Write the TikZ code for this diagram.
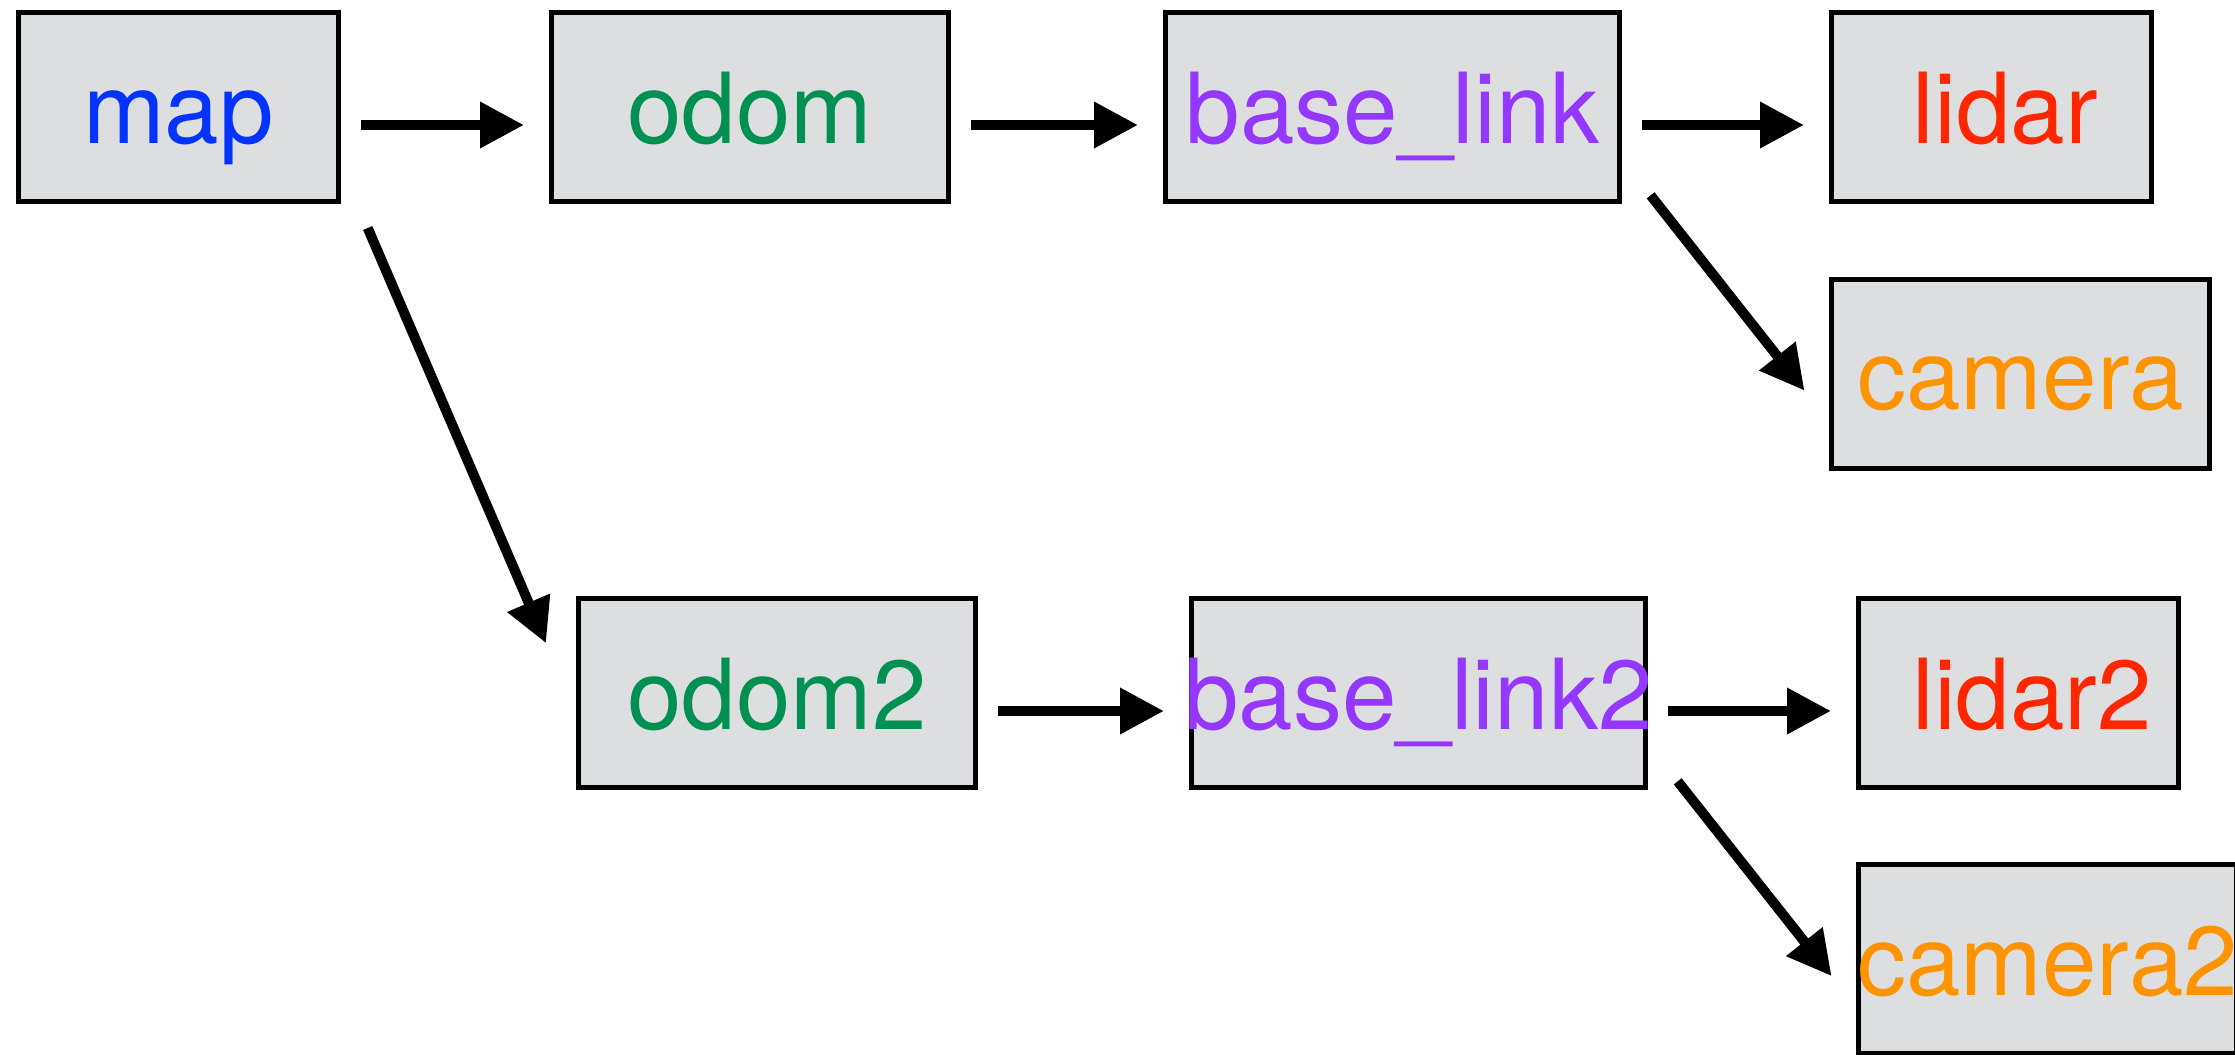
\documentclass[tikz,border=0pt]{standalone}
\usepackage{fontspec}
\setmainfont{TeX Gyre Heros}
\usetikzlibrary{arrows.meta}
\definecolor{framefill}{HTML}{DDDEE0}
\definecolor{mapblue}{HTML}{0433FF}
\definecolor{odomgreen}{HTML}{009051}
\definecolor{basepurple}{HTML}{9437FF}
\definecolor{lidarred}{HTML}{FF2600}
\definecolor{camorange}{HTML}{FF9300}
\begin{document}
\begin{tikzpicture}[x=0.5pt,y=-0.5pt,
  frame/.style={draw=black, line width=2.5pt, fill=framefill, inner sep=0pt,
    minimum height=94.5pt, text height=36pt, text depth=0pt,
    font=\fontsize{49pt}{59pt}\selectfont},
  link/.style={line width=5pt, -{Triangle[length=22pt,width=22pt]}},
  flat/.style={link, shorten <=10pt, shorten >=12.5pt}]
\useasboundingbox (0,0) rectangle (2235,1055);
\clip (0,0) rectangle (2235,1055);

% frames of the first chain
\node[frame, minimum width=160pt,   text=mapblue]    (map)       at (178.5,107)  {map};
\node[frame, minimum width=198.5pt, text=odomgreen]  (odom)      at (750,107)    {odom};
\node[frame, minimum width=227pt,   text=basepurple] (baselink)  at (1392.5,107) {\makebox[0pt]{base\_link}};
\node[frame, minimum width=160pt,   text=lidarred]   (lidar)     at (1991.5,107) {\ lidar};
\node[frame, minimum width=189pt,   text=camorange]  (camera)    at (2020.5,373.5) {camera};

% frames of the second chain
\node[frame, minimum width=198.5pt, text=odomgreen]  (odomtwo)   at (777,693)    {odom2};
\node[frame, minimum width=227pt,   text=basepurple] (basetwo)   at (1418.5,693) {\makebox[0pt]{base\_link2}};
\node[frame, minimum width=160pt,   text=lidarred]   (lidartwo)  at (2018.5,693) {\ lidar2};
\node[frame, minimum width=189pt,   text=camorange]  (camtwo)    at (2047.5,959) {\makebox[0pt]{camera2}};

% horizontal links
\draw[flat] ([yshift=-9pt]map.east)      -- ([yshift=-9pt]odom.west);
\draw[flat] ([yshift=-9pt]odom.east)     -- ([yshift=-9pt]baselink.west);
\draw[flat] ([yshift=-9pt]baselink.east) -- ([yshift=-9pt]lidar.west);
\draw[flat] ([yshift=-9pt]odomtwo.east)  -- ([yshift=-9pt]basetwo.west);
\draw[flat] ([yshift=-9pt]basetwo.east)  -- ([yshift=-9pt]lidartwo.west);

% diagonal links
\draw[link] ([shift={(14.3pt,4.35pt)}]baselink.south east) -- ([shift={(-12.25pt,-8.55pt)}]camera.west);
\draw[link] ([shift={(14.85pt,4.35pt)}]basetwo.south east) -- ([shift={(-12.2pt,-8.55pt)}]camtwo.west);
\draw[link] ([shift={(13.35pt,-12pt)}]map.south east) -- ([shift={(-15pt,-23.6pt)}]odomtwo.north west);
\end{tikzpicture}
\end{document}
